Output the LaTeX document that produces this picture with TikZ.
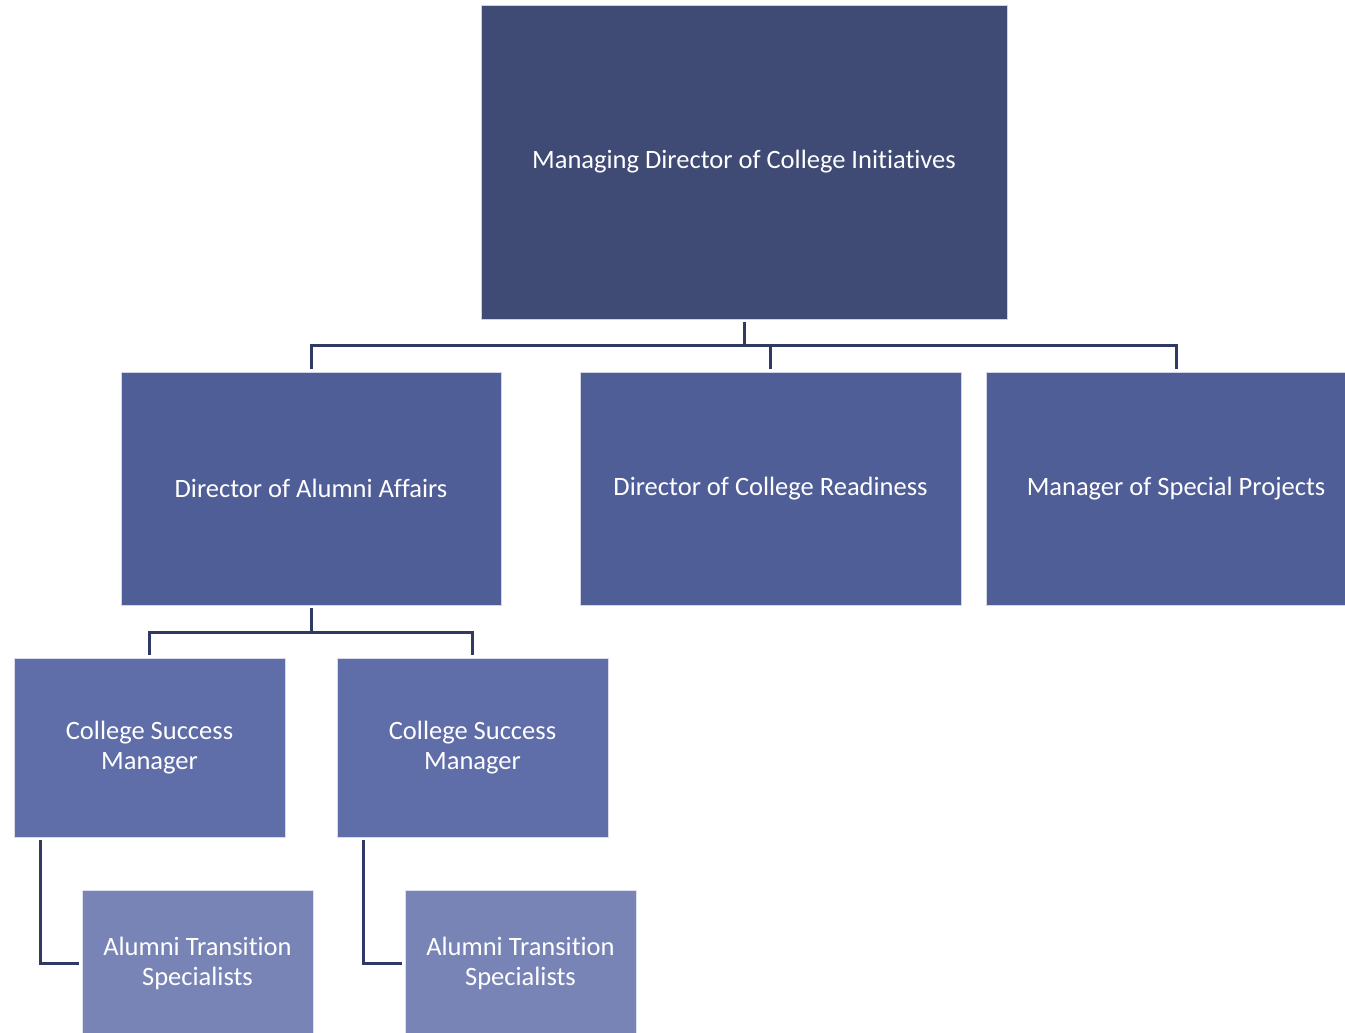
\documentclass[tikz,border=0pt]{standalone}
\usepackage{fontspec}
\setmainfont{Carlito}[RawFeature=-liga]
\usetikzlibrary{positioning}

\definecolor{topblue}{HTML}{3F4A75}
\definecolor{dirblue}{HTML}{505E98}
\definecolor{mgrblue}{HTML}{5F6DA8}
\definecolor{specblue}{HTML}{7884B6}
\definecolor{linkblue}{HTML}{2E3A62}

\tikzset{
	unit/.style={rectangle, text=white, align=center, outer sep=3pt, inner sep=0pt,
		font=\fontsize{26.5}{30}\selectfont, draw=white!75!#1, line width=0.6pt, fill=#1},
	link/.style={draw=linkblue, line width=3pt}
}

\begin{document}
\begin{tikzpicture}[x=1pt,y=-1pt]
		\useasboundingbox (0,0) rectangle (1345,1033);
		\node (mdci) at (744,162) [unit=topblue, minimum width=526, minimum height=314] {Managing Director of College Initiatives};
		\node (daa) at (311,488.5) [unit=dirblue, minimum width=380, minimum height=233] {Director of Alumni Affairs};
		\node (dcr) at (770.5,488.5) [unit=dirblue, minimum width=381, minimum height=233] {Director of College Readiness};
		\node (msp) at (1176,488.5) [unit=dirblue, minimum width=380, minimum height=233] {Manager of Special Projects};
		\node (csmA) at (149.5,747.5) [unit=mgrblue, minimum width=271, minimum height=179] {College Success\\Manager};
		\node (csmB) at (472.5,747.5) [unit=mgrblue, minimum width=271, minimum height=179] {College Success\\Manager};
		\node (atsA) at (197.5,963) [unit=specblue, minimum width=231, minimum height=146] {Alumni Transition\\Specialists};
		\node (atsB) at (520.5,963) [unit=specblue, minimum width=231, minimum height=146] {Alumni Transition\\Specialists};
		\draw[link] (mdci.south) -- ++(0,23) -| (daa.north);
		\draw[link] (mdci.south) -- ++(0,23) -| (dcr.north);
		\draw[link] (mdci.south) -- ++(0,23) -| (msp.north);
		\draw[link] (daa.south) -- ++(0,24) -| (csmA.north);
		\draw[link] (daa.south) -- ++(0,24) -| (csmB.north);
		\draw[link] ([xshift=29pt]csmA.south west) |- (atsA.west);
		\draw[link] ([xshift=29pt]csmB.south west) |- (atsB.west);
	\end{tikzpicture}
\end{document}
